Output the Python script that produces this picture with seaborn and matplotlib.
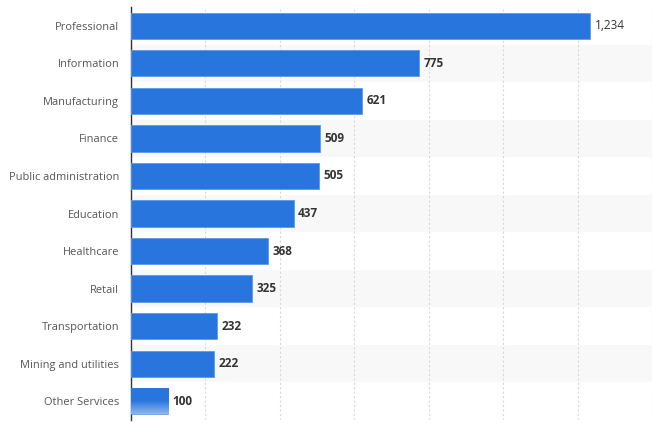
import numpy as np
import pandas as pd
import seaborn as sns
import matplotlib.pyplot as plt
from matplotlib.colors import LinearSegmentedColormap

categories = ["Professional", "Information", "Manufacturing", "Finance",
              "Public administration", "Education", "Healthcare", "Retail",
              "Transportation", "Mining and utilities", "Other Services"]
values = [1234, 775, 621, 509, 505, 437, 368, 325, 232, 222, 100]
x_ticks = [0, 200, 400, 600, 800, 1000, 1200, 1400]

df = pd.DataFrame({"Sector": categories, "Value": values})

sns.set_style("white")
plt.rcParams['font.family'] = ['Open Sans', 'DejaVu Sans']

blue = "#2876dd"
fig = plt.figure(figsize=(6.53, 4.24), dpi=100)
ax = fig.add_axes([131 / 653, 4 / 424, 521 / 653, 413 / 424])

# alternating row bands
for i in range(len(categories)):
    if i % 2 == 1:
        ax.axhspan(i - 0.5, i + 0.5, color="#f8f8f8", zorder=0, lw=0)

sns.barplot(data=df, x="Value", y="Sector", ax=ax, color=blue,
            saturation=1, width=0.7, zorder=3, edgecolor="#5b9be8", linewidth=0.6)

# faded last bar
last = ax.patches[-1]
x0, y0 = last.get_x(), last.get_y()
w, h = last.get_width(), last.get_height()
last.set_facecolor("none")
cmap = LinearSegmentedColormap.from_list("fade", [blue, blue, "#8db6ee"])
grad = np.linspace(0, 1, 100).reshape(-1, 1)
im = ax.imshow(grad, cmap=cmap, aspect="auto", extent=[x0, x0 + w, y0 + h, y0],
               origin="upper", zorder=3)
im.set_clip_path(last)

for i, v in enumerate(values):
    ax.text(v + 12, i, f"{v:,}", va="center", ha="left", fontsize=8.5,
            fontweight="bold" if i > 0 else "normal", color="#333333", zorder=4)

ax.set_xlim(0, 1400)
ax.set_ylim(len(categories) - 0.5, -0.5)
ax.set_xticks(x_ticks)
ax.set_xticklabels([])
ax.tick_params(axis="x", length=0)
ax.tick_params(axis="y", length=0, labelsize=7.9, labelcolor="#555555", pad=8.5)
ax.xaxis.grid(True, linestyle=(0, (2, 2)), color="#d9d9d9", lw=0.8, zorder=1)
ax.set_axisbelow(True)
ax.set(xlabel="", ylabel="")
for s in ["top", "right", "bottom"]:
    ax.spines[s].set_visible(False)
ax.spines["left"].set_color("#333333")
ax.spines["left"].set_linewidth(1)

fig.savefig("out.png", dpi=100)
